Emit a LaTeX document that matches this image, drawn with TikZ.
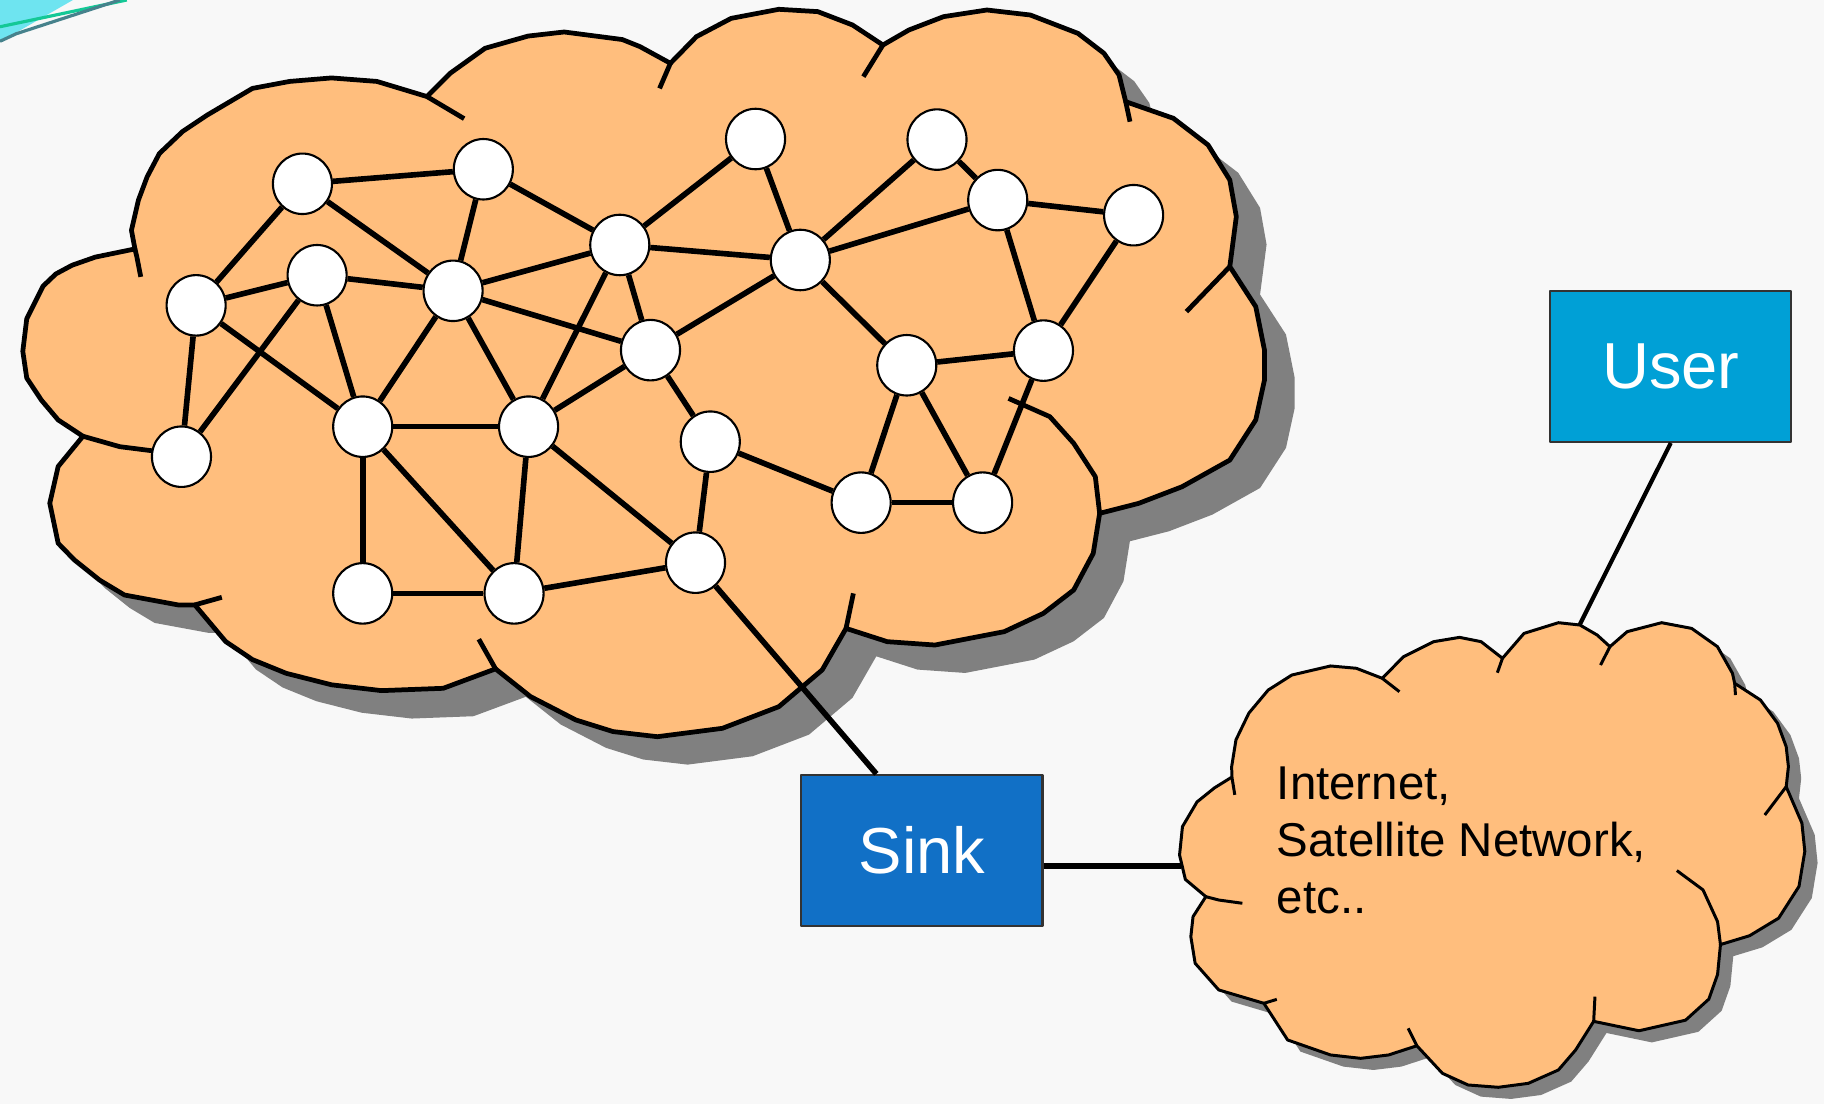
\documentclass[tikz,border=0pt]{standalone}
\usepackage{fontspec}
\setmainfont{Liberation Sans}
\usetikzlibrary{shapes.geometric,calc}

\definecolor{bgpaper}{RGB}{248,248,248}
\definecolor{peach}{RGB}{255,190,125}
\definecolor{cloudshade}{RGB}{128,128,128}
\definecolor{sinkblue}{RGB}{17,112,198}
\definecolor{userblue}{RGB}{0,160,214}
\definecolor{cornercyan}{RGB}{110,228,240}
\definecolor{cornergreen}{RGB}{20,200,150}
\definecolor{cornerteal}{RGB}{70,130,140}

\tikzset{
  % outline of the sensor-field cloud
  bigcloud/.pic={
    \path[pic actions] (19.6,302) -- (23,274) -- (37,246) -- (48,235.5) -- (62,228) -- (82,221) -- (116,214)
      -- (113,198) -- (119,172) -- (126.5,152) -- (137,132) -- (157,113) -- (178,99) -- (217,76) -- (249,70) -- (285,67) -- (324,70) -- (367,83)
      -- (387,63) -- (417,41.5) -- (454,31) -- (485,27.5) -- (535,34) -- (550,40) -- (576.3,54.4)
      -- (598.7,31.5) -- (628.5,15.8) -- (669.5,8) -- (703,10) -- (732.9,21.5) -- (759,38.7)
      -- (781.3,25.8) -- (811.2,14.3) -- (848.4,8.6) -- (885.7,12.9) -- (926.7,28.7) -- (949,45.8) -- (962,64.5) -- (967.7,87.4)
      -- (1008.7,101.7) -- (1038.5,124.6) -- (1057.2,154.7) -- (1062.8,186.2) -- (1057.2,229.2)
      -- (1079.5,263.6) -- (1087,300.9) -- (1087,326.7) -- (1079.5,361) -- (1057.2,395.5) -- (1016.2,418.4) -- (978.9,432.7) -- (945.3,441.3)
      -- (939.8,475.7) -- (923,507.2) -- (896.9,527.3) -- (863.3,543) -- (803.7,554.5) -- (762.7,551.6) -- (727.3,540.2)
      -- (706.8,575.9) -- (669.5,607.5) -- (621,626.1) -- (565.1,633.3) -- (527,628.9) -- (495,618.9) -- (456,598.8) -- (426,575)
      -- (381,591.7) -- (328,593.7) -- (285,588.7) -- (246,578.8) -- (217,567) -- (194,551.5) -- (167.5,520)
      -- (153,520) -- (107,511.5) -- (85.5,498.6) -- (64,481.4) -- (50,467) -- (42.8,432.6) -- (50,401) -- (71.3,375)
      -- (50,361) -- (35.6,344) -- (23,325) -- cycle;
  },
  % outline of the wide-area network cloud
  smallcloud/.pic={
    \path[pic actions] (1059,668) -- (1058.8,659) -- (1062.5,636) -- (1073.6,613) -- (1090.2,593.2) -- (1110.5,580.3) -- (1143.8,572.5) -- (1166,574.5) -- (1188.2,583.1)
      -- (1206.6,564.5) -- (1232.5,551.6) -- (1254.7,547.9) -- (1273.2,551.6) -- (1291.6,565.9)
      -- (1310.1,544.5) -- (1339.7,535.3) -- (1358.2,537.3) -- (1373,545.9) -- (1384,555.9)
      -- (1398.8,543) -- (1428.4,535.3) -- (1454.2,540.2) -- (1476.4,555.9) -- (1489.3,578.8) -- (1491.2,587.4)
      -- (1513.4,601.8) -- (1528.1,621.8) -- (1535.5,641.9) -- (1537.4,659.1) -- (1535.5,676.3)
      -- (1549,707.6) -- (1551.5,731.8) -- (1546.5,762) -- (1529,789.3) -- (1504,804.4) -- (1479,812)
      -- (1476.5,837.7) -- (1469,858.9) -- (1449,877) -- (1409,886.1) -- (1370,878)
      -- (1354.5,902.6) -- (1339.7,919.8) -- (1313.8,931.3) -- (1288,934.7) -- (1262,932.7) -- (1240,922.7) -- (1218,899)
      -- (1193.7,906.9) -- (1169.7,909.8) -- (1143.8,906.9) -- (1106.9,894) -- (1086.5,862.5)
      -- (1047.7,851) -- (1027.4,828.1) -- (1023.7,805.2) -- (1025.6,788) -- (1036.6,770.8)
      -- (1019,756) -- (1014,735) -- (1016.5,710.6) -- (1029,689.4) -- (1044,677.3) -- cycle;
  }
}

\begin{document}
\begin{tikzpicture}[x=0.011633cm,y=-0.011633cm,
  line join=round,
  sensor/.style={ellipse,draw=black,line width=0.6pt,fill=white,
    minimum width=16.8pt,minimum height=17.2pt,inner sep=0pt},
  link/.style={line width=1.6pt},
  bigrim/.style={line width=1.35pt},
  smallrim/.style={line width=0.85pt},
  gateway/.style={draw=black!80,line width=0.6pt,minimum width=68.6pt,
    minimum height=42.9pt,inner sep=0pt,text=white,
    font=\fontsize{18.5}{22}\selectfont}]

% paper
\fill[bgpaper] (0,0) rectangle (1568,949);
\useasboundingbox (0,0) rectangle (1568,949);

% corner ornament
\fill[cornercyan] (0,0) -- (62.7,0) -- (0,36) -- cycle;
\draw[cornergreen,line width=0.9pt] (0,23) -- (109,0);
\draw[cornerteal,line width=0.9pt] (0,35.5) -- (14,29) -- (103,0);

% sensor-field cloud with its shadow
\pic[fill=cloudshade] at (26,24) {bigcloud};
\pic[fill=peach,draw=black,bigrim] {bigcloud};
\begin{scope}[bigrim]
  \draw (116,214) -- (117.6,220.6) -- (121,238);
  \draw (367,83) -- (399,102);
  \draw (576.3,54.4) -- (567,76);
  \draw (759,38.7) -- (742.2,65.9);
  \draw (967.7,87.4) -- (971.4,104.6);
  \draw (1057.2,229.2) -- (1019.9,267.9);
  \draw (945.3,441.3) -- (941.6,409.8) -- (923,381.1) -- (902.5,358.2) -- (867,342.5);
  \draw (727.3,540.2) -- (733.6,510.1);
  \draw (426,575) -- (411.6,549.5);
  \draw (167.5,520) -- (190.7,513.5);
  \draw (71.3,375) -- (103,384) -- (130,387.4) -- (150,391);
\end{scope}

% wide-area network cloud with its shadow
\pic[fill=cloudshade] at (11,10) {smallcloud};
\pic[fill=peach,draw=black,smallrim] {smallcloud};
\begin{scope}[smallrim]
  \draw (1059,668) -- (1061.5,683.3);
  \draw (1188.2,583.1) -- (1203,594.6);
  \draw (1291.6,565.9) -- (1287.2,578.3);
  \draw (1384,555.9) -- (1375.9,571.7);
  \draw (1491.2,587.4) -- (1491.9,597.5);
  \draw (1535.5,676.3) -- (1517.1,700.6);
  \draw (1479,812) -- (1476.5,792.3) -- (1464,765) -- (1441.5,748.4);
  \draw (1370,878) -- (1371.1,856.8);
  \draw (1218,899) -- (1210.5,884);
  \draw (1086.5,862.5) -- (1097.6,859.1);
  \draw (1036.6,770.8) -- (1047.7,773.7) -- (1068,776.5);
\end{scope}
\node[anchor=north west,inner sep=0pt,align=left,
  font=\fontsize{13.5}{16.2}\selectfont] (wan) at (1097,658.5)
  {Internet,\\Satellite Network,\\etc..};

% sensor nodes
\node[sensor] (A) at (260,158) {};
\node[sensor] (B) at (415.5,145.5) {};
\node[sensor] (C) at (649.5,119.5) {};
\node[sensor] (D) at (805.5,120) {};
\node[sensor] (E) at (857.7,172) {};
\node[sensor] (F) at (974.5,185) {};
\node[sensor] (G) at (168.6,262.5) {};
\node[sensor] (H) at (272.6,236.6) {};
\node[sensor] (I) at (389.5,250) {};
\node[sensor] (J) at (532.8,210.6) {};
\node[sensor] (K) at (688,223.5) {};
\node[sensor] (L) at (559.2,301) {};
\node[sensor] (M) at (779.5,314) {};
\node[sensor] (N) at (897,301.4) {};
\node[sensor] (O) at (156,392.6) {};
\node[sensor] (P) at (311.8,366.8) {};
\node[sensor] (Q) at (454.4,366.8) {};
\node[sensor] (R) at (610.6,379.7) {};
\node[sensor] (S) at (740.3,432.1) {};
\node[sensor] (T) at (844.7,432.1) {};
\node[sensor] (U) at (311.8,510.1) {};
\node[sensor] (V) at (441.9,510.1) {};
\node[sensor] (W) at (597.9,483.7) {};

% radio links
\foreach \a/\b in {A/B, A/G, A/I, B/I, B/J, C/J, C/K, D/K, D/E, E/K, E/F, E/N,
  F/N, G/H, G/O, G/P, H/I, H/O, H/P, I/J, I/L, I/P, I/Q, J/K, J/L, J/Q, K/L,
  K/M, L/Q, L/R, M/N, M/S, M/T, N/T, P/Q, P/U, P/V, Q/V, Q/W, R/S, R/W, S/T,
  U/V, V/W}
  \draw[link] (\a) -- (\b);

% gateways
\node[gateway,fill=sinkblue] (Sink) at (792.5,731) {Sink};
\node[gateway,fill=userblue] (User) at (1436.3,315) {User};

\coordinate (wanLeft) at (1015,744.5);
\coordinate (wanTop) at (1358,537);
\draw[link] (W) -- ($(Sink.north west)!0.313!(Sink.north east)$);
\draw[line width=1.7pt] (Sink.east |- wanLeft) -- (wanLeft);
\draw[line width=1.2pt] (User.south) -- (wanTop);

\end{tikzpicture}
\end{document}
